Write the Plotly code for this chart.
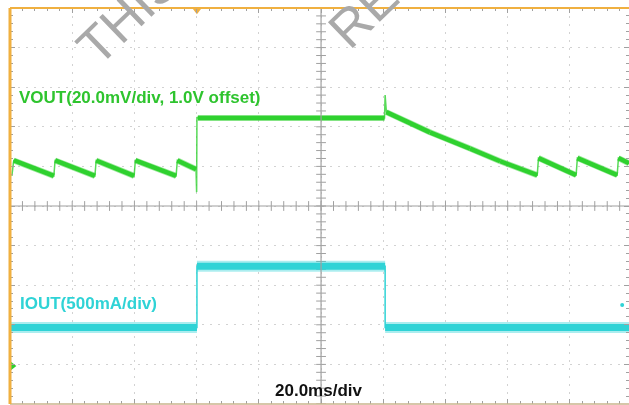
import plotly.graph_objects as go

# ---- data (time in ms, 20 ms/div; amplitude in screen divisions, centre = 0) ----
vout_t = [0.6, 1.2, 14.1, 14.5, 27.3, 27.7, 39.9, 40.3, 53.4, 53.8, 59.8, 60.0, 60.1, 60.4,
          120.4, 120.6, 121.0, 135.0, 147.9, 157.6, 169.5, 169.9, 182.0, 182.4, 195.2, 195.6, 199.0]
vout_div = [0.76, 1.15, 0.76, 1.15, 0.76, 1.15, 0.76, 1.15, 0.76, 1.15, 0.93, 0.35, 2.25, 2.22,
            2.22, 2.80, 2.37, 1.86, 1.45, 1.13, 0.78, 1.21, 0.78, 1.21, 0.78, 1.21, 1.08]

iout_t = [0.0, 60.1, 60.1, 120.6, 120.6, 199.0]
iout_div = [-3.07, -3.07, -1.52, -1.52, -3.07, -3.07]

x_major = 20      # ms/div
x_range = [0, 199.0]
y_range = [-5, 5]

GREEN = "#2fd12f"
CYAN = "#2fd3d6"
ORANGE = "#f0b040"
GRID = "#d2d2d2"
AXC = "#a0a0a0"


def thick_segments(t, v, min_dt=1.0):
    xs, ys = [], []
    for i in range(len(t) - 1):
        if t[i + 1] - t[i] > min_dt:
            xs += [t[i], t[i + 1], None]
            ys += [v[i], v[i + 1], None]
    return xs, ys


fig = go.Figure()

# centre cross minor ticks
cx = [x_range[0] + i * 4 for i in range(int(200 / 4) + 1)]
fig.add_trace(go.Scatter(x=cx, y=[0] * len(cx), mode="markers", hoverinfo="skip",
                         marker=dict(symbol="line-ns-open", size=7, color=AXC, line=dict(width=1, color=AXC))))
cy = [y_range[0] + i * 0.2 for i in range(51)]
fig.add_trace(go.Scatter(x=[100] * len(cy), y=cy, mode="markers", hoverinfo="skip",
                         marker=dict(symbol="line-ew-open", size=7, color=AXC, line=dict(width=1, color=AXC))))

# IOUT
ix, iy = thick_segments(iout_t, iout_div)
fig.add_trace(go.Scatter(x=iout_t, y=iout_div, mode="lines", line=dict(color=CYAN, width=1.5), hoverinfo="skip"))
fig.add_trace(go.Scatter(x=ix, y=iy, mode="lines", line=dict(color=CYAN, width=11), opacity=0.4, hoverinfo="skip"))
fig.add_trace(go.Scatter(x=ix, y=iy, mode="lines", line=dict(color=CYAN, width=7), hoverinfo="skip"))

# VOUT
vx, vy = thick_segments(vout_t, vout_div)
fig.add_trace(go.Scatter(x=vout_t, y=vout_div, mode="lines", line=dict(color=GREEN, width=1.5), opacity=0.8, hoverinfo="skip"))
fig.add_trace(go.Scatter(x=vx, y=vy, mode="lines", line=dict(color=GREEN, width=6), opacity=0.45, hoverinfo="skip"))
fig.add_trace(go.Scatter(x=vx, y=vy, mode="lines", line=dict(color=GREEN, width=4.5), hoverinfo="skip"))

# markers: trigger, channel reference, cyan dot
fig.add_trace(go.Scatter(x=[60.1], y=[4.93], mode="markers", cliponaxis=False, hoverinfo="skip",
                         marker=dict(symbol="triangle-down", size=7, color=ORANGE)))
fig.add_trace(go.Scatter(x=[0.6], y=[-4.04], mode="markers", cliponaxis=False, hoverinfo="skip",
                         marker=dict(symbol="triangle-right", size=9, color=GREEN)))
fig.add_trace(go.Scatter(x=[196.8], y=[-2.5], mode="markers", cliponaxis=False, hoverinfo="skip",
                         marker=dict(symbol="circle", size=4, color=CYAN)))

shapes = [
    dict(type="line", xref="x", yref="paper", x0=100, x1=100, y0=0, y1=1, line=dict(color=AXC, width=1.2)),
    dict(type="line", xref="paper", yref="y", x0=0, x1=1, y0=0, y1=0, line=dict(color=AXC, width=1.2)),
    dict(type="line", xref="paper", yref="paper", x0=0, x1=1, y0=1, y1=1, line=dict(color=ORANGE, width=2)),
    dict(type="line", xref="paper", yref="paper", x0=0, x1=1, y0=0, y1=0, line=dict(color="#c8b48c", width=1.5)),
    dict(type="line", xref="paper", yref="paper", x0=0, x1=0, y0=0, y1=1, line=dict(color=ORANGE, width=3)),
]

lab_font = dict(family="Liberation Sans, Arial, sans-serif", size=17)
wm_font = dict(family="Liberation Sans, Arial, sans-serif", size=52, color="#a9a9a9")
annotations = [
    dict(x=2.25, y=2.73, xref="x", yref="y", text="<b>VOUT(20.0mV/div, 1.0V offset)</b>",
         showarrow=False, xanchor="left", yanchor="middle", font=dict(lab_font, color="#2ec42e")),
    dict(x=2.6, y=-2.47, xref="x", yref="y", text="<b>IOUT(500mA/div)</b>",
         showarrow=False, xanchor="left", yanchor="middle", font=dict(lab_font, color=CYAN)),
    dict(x=84.6, y=-4.67, xref="x", yref="y", text="<b>20.0ms/div</b>",
         showarrow=False, xanchor="left", yanchor="middle", font=dict(lab_font, color="#111111")),
    dict(x=38.0, y=4.85, xref="x", yref="y", text="THIS", textangle=-44,
         showarrow=False, xanchor="center", yanchor="middle", font=wm_font),
    dict(x=113.5, y=4.88, xref="x", yref="y", text="RE", textangle=-44,
         showarrow=False, xanchor="center", yanchor="middle", font=wm_font),
]

fig.update_layout(
    width=629, height=405,
    margin=dict(l=10, r=0, t=8, b=1, pad=0),
    paper_bgcolor="white", plot_bgcolor="white",
    showlegend=False,
    shapes=shapes, annotations=annotations,
    xaxis=dict(range=x_range, dtick=x_major, tick0=0, showgrid=True, gridcolor=GRID,
               griddash="2px,6px", gridwidth=1, zeroline=False, showticklabels=False,
               ticks="inside", ticklen=5, tickcolor=AXC, mirror="ticks", showline=False,
               minor=dict(ticks="inside", dtick=4, ticklen=3, tickcolor=AXC, showgrid=False)),
    yaxis=dict(range=y_range, dtick=1, tick0=0, showgrid=True, gridcolor=GRID,
               griddash="2px,6px", gridwidth=1, zeroline=False, showticklabels=False,
               ticks="inside", ticklen=5, tickcolor=AXC, mirror="ticks", showline=False,
               minor=dict(ticks="inside", dtick=0.2, ticklen=3, tickcolor=AXC, showgrid=False)),
)

fig.write_html("out.html")
